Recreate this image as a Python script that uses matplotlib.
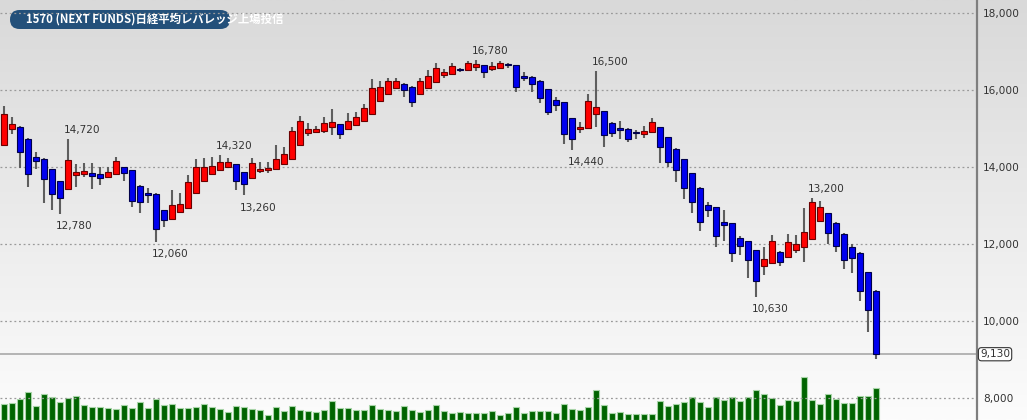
import numpy as np
import matplotlib
matplotlib.use('Agg')
import matplotlib.pyplot as plt
from matplotlib.patches import FancyBboxPatch
from matplotlib.ticker import FuncFormatter

plt.rcParams['font.family'] = ['DejaVu Sans']

title = '1570 (NEXT FUNDS)日経平均レバレッジ上場投信'

opens = [14560, 14980, 15050, 14730, 14270, 14210, 13940, 13630, 13420, 13780,
         13820, 13850, 13820, 13750, 13820, 14000, 13920, 13510, 13300, 13300,
         12870, 12640, 12820, 12930, 13310, 13640, 13820, 13910, 14010, 14070,
         13860, 13700, 13890, 13920, 13940, 14080, 14200, 14570, 14870, 14920,
         14940, 15050, 15110, 14980, 15080, 15190, 15370, 15710, 15900, 16060,
         16160, 16090, 15890, 16050, 16200, 16380, 16420, 16530, 16520, 16610,
         16640, 16550, 16580, 16650, 16640, 16370, 16350, 16240, 16020, 15740,
         15680, 15270, 14990, 15020, 15370, 15450, 15150, 15020, 14990, 14880,
         14860, 14900, 15030, 14780, 14470, 14200, 13830, 13460, 13020, 12950,
         12580, 12540, 12160, 12070, 11840, 11420, 11500, 11800, 11670, 11840,
         11930, 12120, 12590, 12790, 12550, 12260, 11910, 11770, 11270, 10780]
highs = [15580, 15290, 15060, 14740, 14400, 14220, 13950, 13640, 14720, 14080,
         14090, 14090, 14010, 14010, 14270, 14010, 13930, 13520, 13460, 13310,
         12880, 13390, 13310, 13790, 14210, 14230, 14270, 14320, 14220, 14080,
         13870, 14220, 14140, 14140, 14570, 14530, 15050, 15320, 15130, 15060,
         15310, 15500, 15120, 15390, 15440, 15630, 16280, 16240, 16320, 16320,
         16170, 16100, 16310, 16520, 16710, 16540, 16710, 16570, 16760, 16780,
         16650, 16740, 16750, 16710, 16650, 16460, 16360, 16250, 16030, 15830,
         15690, 15280, 15180, 15890, 16500, 15460, 15160, 15190, 15000, 14960,
         15060, 15260, 15040, 14790, 14480, 14210, 13840, 13470, 13100, 12960,
         12890, 12550, 12210, 12080, 11850, 11930, 12230, 11810, 12260, 12230,
         12920, 13200, 13120, 12800, 12560, 12270, 12000, 11780, 11280, 10790]
lows = [14540, 14850, 13960, 13490, 13940, 13050, 12880, 12780, 13400, 13490,
        13730, 13430, 13530, 13700, 13800, 13630, 12950, 12800, 13050, 12060,
        12430, 12620, 12800, 12900, 13300, 13620, 13800, 13890, 14000, 13400,
        13260, 13680, 13830, 13830, 13920, 14060, 14180, 14550, 14800, 14890,
        14870, 14830, 14720, 14960, 15060, 15170, 15350, 15690, 15880, 16040,
        15810, 15570, 15870, 16030, 16180, 16300, 16400, 16470, 16500, 16490,
        16320, 16500, 16560, 16560, 15950, 16230, 15960, 15670, 15350, 15450,
        14600, 14440, 14870, 15000, 15050, 14510, 14770, 14720, 14660, 14720,
        14740, 14880, 14110, 14000, 13600, 13170, 12790, 12330, 12690, 11910,
        12070, 11540, 11710, 11120, 10630, 11190, 11480, 11420, 11650, 11750,
        11540, 12100, 12570, 12000, 11800, 11340, 11250, 10510, 9720, 9000]
closes = [15370, 15120, 14400, 13810, 14150, 13680, 13300, 13180, 14170, 13860,
          13890, 13770, 13700, 13870, 14160, 13830, 13110, 13080, 13280, 12380,
          12630, 13000, 13040, 13600, 13990, 14010, 14020, 14120, 14120, 13630,
          13560, 14090, 13950, 13980, 14200, 14340, 14930, 15190, 14980, 14990,
          15130, 15180, 14860, 15190, 15300, 15540, 16050, 16090, 16230, 16230,
          16010, 15700, 16240, 16360, 16560, 16460, 16630, 16520, 16690, 16670,
          16470, 16620, 16700, 16640, 16090, 16310, 16150, 15780, 15440, 15620,
          14860, 14720, 15040, 15710, 15550, 14830, 14890, 14950, 14730, 14870,
          14930, 15160, 14530, 14140, 13930, 13460, 13080, 12570, 12870, 12210,
          12490, 11770, 11940, 11580, 11030, 11600, 12070, 11540, 12060, 12000,
          12320, 13080, 12970, 12290, 11950, 11580, 11630, 10770, 10280, 9130]
volumes = [163, 170, 207, 280, 143, 263, 233, 183, 217, 240,
           150, 130, 130, 120, 110, 150, 120, 177, 123, 207,
           150, 160, 117, 120, 130, 157, 130, 113, 80, 137,
           130, 110, 103, 53, 130, 90, 137, 97, 87, 80,
           97, 190, 120, 120, 97, 97, 147, 107, 97, 90,
           140, 97, 83, 97, 150, 87, 70, 80, 70, 70,
           73, 87, 47, 67, 133, 70, 87, 87, 90, 70,
           160, 113, 97, 133, 297, 150, 70, 83, 60, 63,
           63, 63, 187, 143, 160, 180, 233, 177, 130, 230,
           200, 230, 187, 230, 303, 257, 217, 147, 200, 187,
           427, 200, 157, 263, 207, 173, 173, 237, 240, 317]

peak_idx = [8, 27, 59, 74, 101]
trough_idx = [7, 19, 30, 71, 94]

W, H = 1027, 420
fig = plt.figure(figsize=(W / 100, H / 100), dpi=100)

# background gradient
bg = fig.add_axes([0, 0, 1, 1], zorder=-10)
grad = np.linspace(0, 1, 256).reshape(-1, 1)
cmap = matplotlib.colors.LinearSegmentedColormap.from_list('bg', ['#d9d9d9', '#fcfcfc'])
bg.imshow(grad, aspect='auto', cmap=cmap, extent=[0, 1, 0, 1], origin='upper')
bg.axis('off')

ax = fig.add_axes([0, 0, 977 / W, 1])
ax.patch.set_alpha(0)
n = len(opens)
x = np.arange(n)
o = np.array(opens); c = np.array(closes); h = np.array(highs); l = np.array(lows)
up = c > o

# volume
axv = ax.twinx()
axv.bar(x, volumes, width=0.8, color='#006400', edgecolor='#a8d4a8', linewidth=0.8, zorder=2)
axv.set_ylim(0, 4200)
axv.set_yticks([])
for s in axv.spines.values():
    s.set_visible(False)
ax.set_zorder(axv.get_zorder() + 1)
axv.patch.set_visible(False)

ax.vlines(x, l, h, color='#5e5e5e', linewidth=1.5, zorder=3)
body_bottom = np.minimum(o, c)
body_h = np.maximum(np.abs(c - o), 35)
ax.bar(x[up], body_h[up], bottom=body_bottom[up], width=0.75, color='#ff0000',
       edgecolor='#6a0000', linewidth=0.8, zorder=4)
ax.bar(x[~up], body_h[~up], bottom=body_bottom[~up], width=0.75, color='#0000f0',
       edgecolor='#00004a', linewidth=0.8, zorder=4)

ax.set_xlim(-0.5, 121.6)
ax.set_ylim(7420, 18340)
ax.set_xticks([])
ax.set_yticks(range(8000, 18001, 2000))
ax.yaxis.set_major_formatter(FuncFormatter(lambda v, p: f'{int(v):,}'))
ax.yaxis.tick_right()
ax.tick_params(axis='y', length=0, pad=4.5, labelsize=7.6, labelcolor='#333333')
ax.yaxis.grid(True, linestyle=(0, (1.5, 2.2)), color='#9a9a9a', linewidth=0.9)
ax.set_axisbelow(True)
for k, s in ax.spines.items():
    s.set_visible(k == 'right')
ax.spines['right'].set_color('#7f7f7f')
ax.spines['right'].set_linewidth(1.6)

# last price line
last = closes[-1]
ax.axhline(last, color='#b4b4b4', linewidth=1.4, zorder=1)
ax.annotate(f'{last:,}', xy=(1, last), xycoords=('axes fraction', 'data'),
            xytext=(3, 0), textcoords='offset pixels', ha='left', va='center',
            fontsize=7.6, color='#333333', annotation_clip=False,
            bbox=dict(boxstyle='round,pad=0.15,rounding_size=0.3', fc='white', ec='#333333', lw=0.8))

for i in peak_idx:
    ax.annotate(f'{highs[i]:,}', xy=(i, highs[i]), xytext=(-4.5, 9),
                textcoords='offset pixels', ha='left', va='center',
                fontsize=7.6, color='#333333')
for i in trough_idx:
    ax.annotate(f'{lows[i]:,}', xy=(i, lows[i]), xytext=(-4.5, -12.5),
                textcoords='offset pixels', ha='left', va='center',
                fontsize=7.6, color='#333333')

# title badge
badge = FancyBboxPatch((10 / 100, (H - 29) / 100), 2.2, 0.19,
                       boxstyle='round,pad=0,rounding_size=0.095',
                       transform=fig.dpi_scale_trans, fc='#23507a', ec='none')
fig.add_artist(badge)
fig.text(26 / W, 1 - 19.5 / H, title, color='white', fontsize=8.2, fontweight='bold',
         ha='left', va='center', family=['Noto Sans CJK JP', 'DejaVu Sans'])

fig.savefig('out.png', dpi=100)
